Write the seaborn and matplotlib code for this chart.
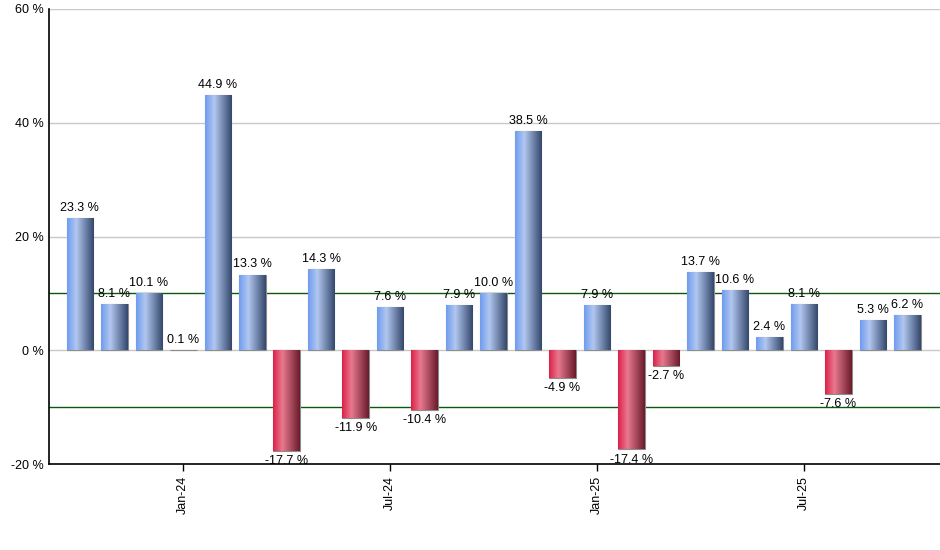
'''
Monthly change bar chart with gradient-filled bars
'''
import numpy as np
import pandas as pd
import matplotlib
matplotlib.use('Agg')
import matplotlib.pyplot as plt
from matplotlib.colors import LinearSegmentedColormap
import seaborn as sns

months = ['Oct-23', 'Nov-23', 'Dec-23', 'Jan-24', 'Feb-24', 'Mar-24', 'Apr-24', 'May-24', 'Jun-24',
          'Jul-24', 'Aug-24', 'Sep-24', 'Oct-24', 'Nov-24', 'Dec-24', 'Jan-25', 'Feb-25', 'Mar-25',
          'Apr-25', 'May-25', 'Jun-25', 'Jul-25', 'Aug-25', 'Sep-25', 'Oct-25']
values = [23.3, 8.1, 10.1, 0.1, 44.9, 13.3, -17.7, 14.3, -11.9, 7.6, -10.4, 7.9, 10.0, 38.5, -4.9,
          7.9, -17.4, -2.7, 13.7, 10.6, 2.4, 8.1, -7.6, 5.3, 6.2]
shown_ticks = ['Jan-24', 'Jul-24', 'Jan-25', 'Jul-25']
y_ticks = [-20, 0, 20, 40, 60]

df = pd.DataFrame({'month': months, 'change': values})

sns.set_style('white')
plt.rcParams['font.family'] = ['Liberation Sans', 'DejaVu Sans']
plt.rcParams['text.color'] = 'black'
plt.rcParams['xtick.color'] = 'black'
plt.rcParams['ytick.color'] = 'black'

blue_cmap = LinearSegmentedColormap.from_list('blue_bar', [(0, '#6e9cf0'), (0.35, '#b2c7ef'), (1, '#33476c')])
red_cmap = LinearSegmentedColormap.from_list('red_bar', [(0, '#dc2048'), (0.35, '#e9798f'), (1, '#681b2b')])

fig = plt.figure(figsize=(9.4, 5.5), dpi=100)
ax = fig.add_axes([0.052, 0.156, 0.948, 0.828])

for y in [20, 40, 60]:
    ax.axhline(y, color='#c8c8c8', lw=1, zorder=0)
ax.axhline(0, color='#c8c8c8', lw=1, zorder=0)
for y in [10, -10]:
    ax.axhline(y, color='#0b5a0b', lw=1, zorder=0.5)

sns.barplot(data=df, x='month', y='change', ax=ax, width=0.77, color='#8aaae8',
            edgecolor='#8c8c8c', linewidth=0.8, zorder=2)

gradient = np.linspace(0, 1, 256).reshape(1, -1)
for patch, v in zip(ax.patches, values):
    x0, y0 = patch.get_x(), patch.get_y()
    w, h = patch.get_width(), patch.get_height()
    cmap = blue_cmap if v >= 0 else red_cmap
    im = ax.imshow(gradient, cmap=cmap, aspect='auto', zorder=2.1,
                   extent=[x0, x0 + w, min(y0, y0 + h), max(y0, y0 + h)])
    im.set_clip_path(patch)

ax.bar_label(ax.containers[0], labels=[f'{v:.1f} %' for v in values], padding=3, fontsize=9)

ax.set_xlim(-0.9, 24.95)
ax.set_ylim(-20, 60)
ax.set_yticks(y_ticks)
ax.set_yticklabels([f'{t} %' for t in y_ticks], fontsize=9)
ax.set_xticks([months.index(m) for m in shown_ticks])
ax.set_xticklabels(shown_ticks, rotation=90, fontsize=9)
ax.tick_params(axis='x', direction='out', length=5, width=1, color='black', bottom=True)
ax.tick_params(axis='y', length=0, pad=4)
ax.set_xlabel('')
ax.set_ylabel('')

for side in ['top', 'right']:
    ax.spines[side].set_visible(False)
for side in ['left', 'bottom']:
    ax.spines[side].set_color('black')
    ax.spines[side].set_linewidth(1.2)

fig.savefig('out.png', dpi=100)
plt.close()
